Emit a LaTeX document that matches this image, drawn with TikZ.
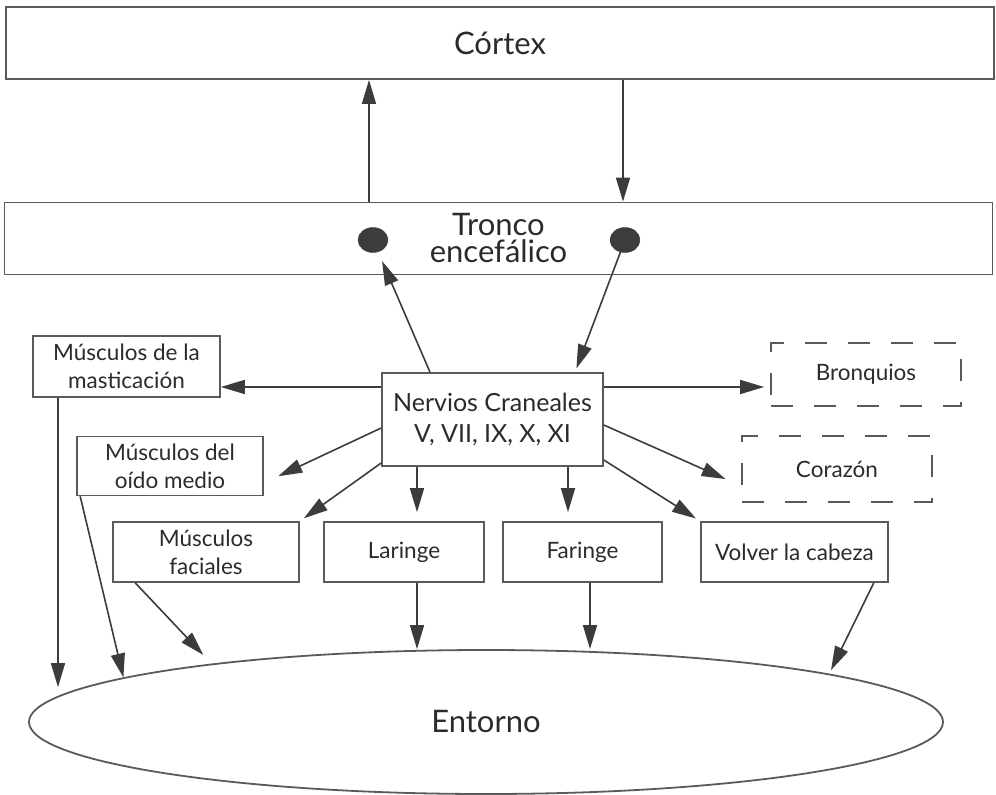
\documentclass[tikz,border=0pt]{standalone}
\usepackage{fontspec}
\setmainfont{Lato}
\usetikzlibrary{arrows.meta, shapes, calc, positioning}
\definecolor{edge}{HTML}{5A5A5A}
\definecolor{ink}{HTML}{2B2B2B}
\definecolor{head}{HTML}{3C3C3C}
\tikzset {
    layer/.style = {
        draw=edge,
        line width=1.8pt,
        shape = rectangle,
        minimum width=988pt,
        minimum height=72pt,
        align=center,
        text=ink,
        font={\fontsize{31}{27}\selectfont} % big labels
    },
    organ/.style args = {#1x#2}{
        draw=edge,
        line width=1.6pt,
        shape = rectangle,
        inner sep=0pt,
        minimum width=#1pt,
        minimum height=#2pt,
        align=center,
        text=ink,
        font={\fontsize{22.5}{28}\selectfont}
    },
    visceral/.style args = {#1x#2}{
        organ={#1x#2},
        dash pattern=on 22pt off 21pt
    },
    nucleus/.style = {
        draw=head,
        fill=head,
        shape = ellipse,
        inner sep=0pt,
        minimum width=30pt,
        minimum height=25pt
    },
    world/.style = {
        draw=edge,
        line width=1.8pt,
        shape = ellipse,
        inner sep=0pt,
        minimum width=914pt,
        minimum height=144pt,
        text=ink,
        font={\fontsize{31}{27}\selectfont}
    },
    flow/.style = {
        -{Triangle[length=24pt, width=14pt]},
        line width=1.6pt,
        draw=head
    }
}
\begin{document}
\begin{tikzpicture}[x=1pt, y=-1pt]
        \useasboundingbox (0,0) rectangle (996,795);

        % Top : cortex and brainstem with its two nuclei
        \node [layer] at (500, 43)                    (cortex)   {Córtex};
        \node [layer] at (498.5, 238.5)               (tronco)   {Tronco\\encefálico};
        \node [nucleus] at (373, 240)                 (dot1)     {};
        \node [nucleus] at (625, 240)                 (dot2)     {};

        % Middle : cranial nerves and their targets
        \node [organ={221x93}, font={\fontsize{25}{31}\selectfont}]
                      at (492.5, 419.5)               (nervios)  {Nervios Craneales\\V, VII, IX, X, XI};
        \node [organ={187x61}] at (126.5, 366.5)      (musc1)    {Músculos de la\\masticación};
        \node [organ={186x59}] at (170, 466)          (musc2)    {Músculos del\\oído medio};
        \node [organ={186x60}] at (206, 552)          (musc3)    {Músculos\\faciales};
        \node [organ={160x60}] at (404, 552)          (laringe)  {Laringe};
        \node [organ={159x60}] at (582.5, 552)        (faringe)  {Faringe};
        \node [organ={187x60}] at (794.5, 552)        (cabeza)   {Volver la cabeza};
        \node [visceral={190x63}] at (866, 374.5)     (bronq)    {Bronquios};
        \node [visceral={190x66}] at (837, 469)       (corazon)  {Corazón};

        % Bottom : environment
        \node [world] at (486, 722)                   (entorno)  {Entorno};

        \draw [flow]                  (369,0 |- tronco.north)      --  (369,0 |- cortex.south);
        \draw [flow]                  (623,0 |- cortex.south)      --  (623,0 |- tronco.north);
        \draw [flow, shorten >=10pt]  (430,0 |- nervios.north)     --  (dot1);
        \draw [flow, shorten >=4pt]   (dot2)                       --  (575,0 |- nervios.north);

        \draw [flow]                  (nervios.west |- 0,387)      --  (musc1.east |- 0,387);
        \draw [flow, shorten >=16pt]  (nervios.west |- 0,428)      --  (musc2.east |- 0,483);
        \draw [flow, shorten >=5pt]   (nervios.west |- 0,463)      --  (musc3.north east);
        \draw [flow, shorten >=9pt]   (417,0 |- nervios.south)     --  (417,0 |- laringe.north);
        \draw [flow, shorten >=9pt]   (568,0 |- nervios.south)     --  (568,0 |- faringe.north);
        \draw [flow, shorten >=5pt]   (nervios.east |- 0,460)      --  (cabeza.north west);
        \draw [flow, shorten >=17pt]  (nervios.east |- 0,425)      --  (corazon.west |- 0,486);
        \draw [flow, shorten >=6pt]   (nervios.east |- 0,387)      --  (bronq.west |- 0,387);

        \draw [flow, shorten >=12pt]  (58,0 |- musc1.south)        --  (58,0 |- entorno.177);
        \draw [flow]                  ([xshift=4pt]musc2.south west)   --  (entorno.173);
        \draw [flow, shorten >=12pt]  ([xshift=23pt]musc3.south west)  --  (entorno.168);
        \draw [flow]                  (417,0 |- laringe.south)     --  (417,0 |- entorno.north);
        \draw [flow]                  (590,0 |- faringe.south)     --  (590,0 |- entorno.north);
        \draw [flow, shorten >=4pt]   ([xshift=-15pt]cabeza.south east) --  (entorno.8);
    \end{tikzpicture}
\end{document}
